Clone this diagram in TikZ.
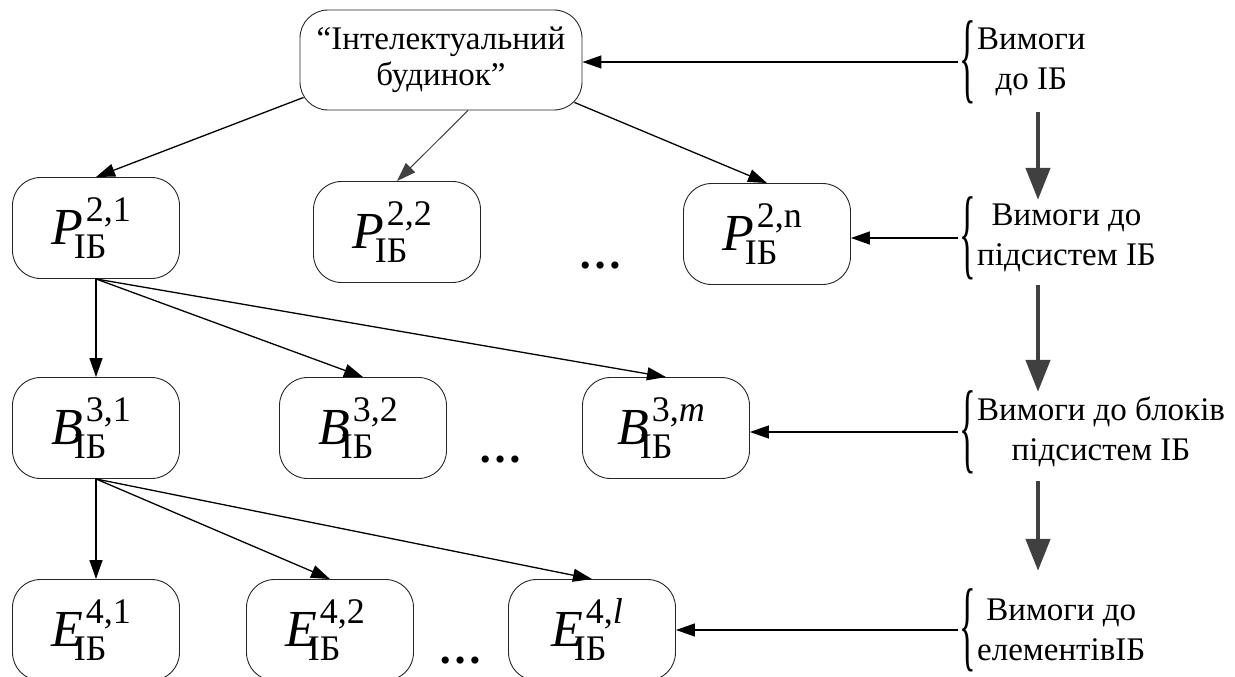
\documentclass[tikz,border=0pt]{standalone}
\usepackage{fontspec}
\setmainfont{Liberation Serif}
\usepackage{graphicx}
\usetikzlibrary{positioning, arrows.meta, calc}

\tikzset{
  blok/.style={draw=black!85, line width=0.9pt, rounded corners=28pt,
    minimum width=167pt, minimum height=101pt, inner sep=0pt,
    font=\fontsize{36}{40}\selectfont},
  strilka/.style={line width=1.3pt, -{Triangle[length=19pt,width=13pt]}},
  vymoga/.style={anchor=west, inner sep=0pt, align=center,
    font=\fontsize{33}{40}\selectfont},
  duzhka/.style={anchor=east, inner xsep=1pt, inner ysep=0pt, font=\fontsize{33}{36}\selectfont},
  krok/.style={line width=4.5pt, draw=black!75, -{Triangle[length=32pt,width=24pt]}},
  krapky/.style={anchor=base, inner sep=0pt, font=\fontsize{44}{46}\selectfont\bfseries}
}

% symbol of a level: letter, superscript, subscript IB
\newcommand{\ibsym}[2]{{\fontsize{52}{52}\selectfont\itshape #1}%
  \kern-9pt\rlap{\raisebox{-14pt}{ІБ}}\kern12pt\raisebox{23pt}{#2}\kern10pt}
\newcommand{\reqbrace}{\scalebox{1.05}[3.05]{\{}}

\begin{document}
\begin{tikzpicture}[x=1pt, y=-1pt]
  \useasboundingbox (0,0) rectangle (1235,677);

  % tree
  \node[blok, minimum width=282pt, minimum height=100pt, align=center,
    font=\fontsize{33}{36}\selectfont] (top) at (441,60) {“Інтелектуальний\\будинок”};

  \node[blok] (p21) at (96,228) {\ibsym{P}{2,1}};
  \node[blok] (p22) at (397,232) {\ibsym{P}{2,2}};
  \node[blok] (p2n) at (767,234) {\ibsym{P}{2,n}};
  \node[krapky] (k2) at (600,268) {…};

  \node[blok] (b31) at (96,428) {\ibsym{B}{3,1}};
  \node[blok] (b32) at (363,428) {\ibsym{B}{3,2}};
  \node[blok] (b3m) at (666,428) {\ibsym{B}{3,\textit{m}}};
  \node[krapky] (k3) at (500,462) {…};

  \node[blok] (e41) at (96,630) {\ibsym{E}{4,1}};
  \node[blok] (e42) at (330,630) {\ibsym{E}{4,2}};
  \node[blok] (e4l) at (592,630) {\ibsym{E}{4,\textit{l}}};
  \node[krapky] (k4) at (460,663) {…};

  \draw[strilka] ($(top.south west)+(4,-13)$) -- (p21.north);
  \draw[strilka, draw=black!75, line width=1pt] ($(top.south)+(27,0)$) -- (p22.north);
  \draw[strilka] ($(top.south east)+(-8,-8)$) -- (p2n.north);

  \draw[strilka] (p21.south) -- (b31.north);
  \draw[strilka] (p21.south) -- (b32.north);
  \draw[strilka] (p21.south) -- (b3m.north);

  \draw[strilka] (b31.south) -- (e41.north);
  \draw[strilka] (b31.south) -- (e42.north);
  \draw[strilka] (b31.south) -- (e4l.north);

  % requirements
  \node[vymoga] (v1) at (977,62) {Вимоги\\до ІБ};
  \node[vymoga] (v2) at (977,238) {Вимоги до\\підсистем ІБ};
  \node[vymoga] (v3) at (977,432) {Вимоги до блоків\\підсистем ІБ};
  \node[vymoga] (v4) at (977,630) {Вимоги до\\елементівІБ};

  \foreach \i in {1,...,4}
    \node[duzhka] (d\i) at (v\i.west) {\reqbrace};

  \draw[strilka] (d1.west) -- (d1.west -| top.east);
  \draw[strilka] (d2.west) -- (d2.west -| p2n.east);
  \draw[strilka] (d3.west) -- (d3.west -| b3m.east);
  \draw[strilka] (d4.west) -- (d4.west -| e4l.east);

  \coordinate (ax) at (1038,0);
  \draw[krok, shorten <=16pt, shorten >=4pt] (v1.south -| ax) -- (v2.north -| ax);
  \draw[krok, shorten <=13pt, shorten >=5pt] (v2.south -| ax) -- (v3.north -| ax);
  \draw[krok, shorten <=14pt, shorten >=28pt] (v3.south -| ax) -- (v4.north -| ax);
\end{tikzpicture}
\end{document}
